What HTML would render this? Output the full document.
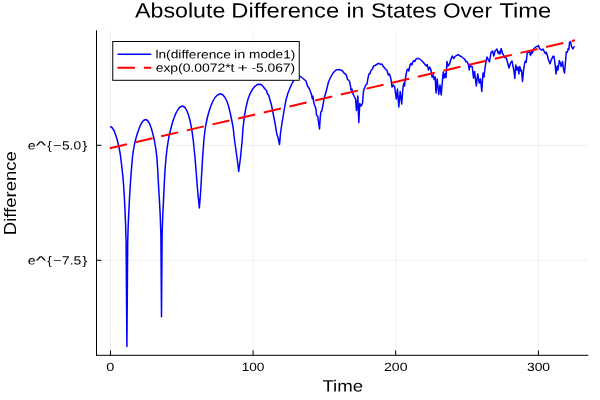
<!DOCTYPE html>
<html><head><meta charset="utf-8"><title>Absolute Difference in States Over Time</title>
<style>
html,body{margin:0;padding:0;background:#fff;}
svg{display:block;will-change:transform;opacity:0.999;}
text{font-family:"Liberation Sans",sans-serif;fill:#000;}
</style></head>
<body>
<svg width="600" height="400" viewBox="0 0 600 400">
<rect x="0" y="0" width="600" height="400" fill="#ffffff"/>
<!-- grid -->
<g stroke="#000" stroke-opacity="0.1" stroke-width="0.6" fill="none">
<line x1="110.5" y1="30.3" x2="110.5" y2="355.3"/>
<line x1="253.1" y1="30.3" x2="253.1" y2="355.3"/>
<line x1="395.7" y1="30.3" x2="395.7" y2="355.3"/>
<line x1="538.4" y1="30.3" x2="538.4" y2="355.3"/>
<line x1="96.5" y1="145.3" x2="588.3" y2="145.3"/>
<line x1="96.5" y1="260.3" x2="588.3" y2="260.3"/>
</g>
<!-- data -->
<polyline fill="none" stroke="#0000ff" stroke-width="1.5" stroke-linejoin="round" stroke-linecap="butt" points="110.2,126.5 112,127.5 114,130.5 115.5,134.5 117,139 118.2,144 119.5,150 120.4,155 121.6,165 122.7,175 123.6,185 124.4,198 125.0,210 125.6,225 126.1,242 126.9,346.6 127.7,242 128.2,225 128.9,210 129.5,198 130.3,185 131.0,175 131.8,165 132.7,155 133.5,150 134.5,144 136,138 137.5,133 139.5,127.5 141.5,123 143.5,120.5 145.5,119.5 147.5,120.5 149.5,123.5 151.5,129 153,134.5 154.5,141 156,150 156.8,157 157.6,168 158.5,185 159.4,200 160.2,215 160.9,235 161.5,316.7 162.1,235 162.8,215 163.4,203 164.2,185 165,170 166.1,157 167.2,147.5 168.7,138 170.5,130 172,124 174,118 176,113 178,109.5 180,107 182.5,106 185,107.5 187,111 188.5,115 190,120.5 191.2,126.5 192,131 193.2,140 195,157.5 196.4,175 197.8,192.5 199.35,207.9 200.6,192.5 201.6,175 202.6,157.5 203.9,140 205,130 206,124 207.5,117 209,111.5 211,105.5 213,101 215,97.5 217.5,95 220.5,93.8 223,95 225,97.5 227,101.5 228.5,106 230,112 231.5,119 232.5,124 233.2,128 234.5,140 237,157.5 238.7,171.5 240.5,157.5 242.2,140 243,128 244.5,115.5 246,107.3 248,99.3 250,93.8 252.5,89.3 255,86.2 257.5,84.6 259.5,84.2 261.5,84.8 263.5,87 265,89 266.5,90.5 267.5,94 268.8,95.5 270,100 271.2,104 272.3,109 274,118 275.5,126 277,135 278,137.5 279.5,144.5 280.5,133 282,123 283.5,114 284.5,108 286,100 288,93 290,88 292,83.5 293.5,80.8 296,77 298,75.7 299.7,76 303,78.5 306,81 307.5,86 309.5,89 311.5,94.5 312.3,98.7 312.9,96.2 313.6,101.5 314.5,105 316,109 316.5,115 317.8,116.5 318.5,122 319.5,129 320.2,118 320.8,112 321.8,111 323,105 324,99 326.5,90 328.5,82 330,78.5 333,73 336,70 339,69.5 342,70.5 344.5,73.5 346,74.3 347.5,79.3 349.5,81.2 350.5,86 351,90 352,89 352.5,93 354,96 355.5,99 356.5,110.5 357.8,96 358.8,122.5 359.8,103.5 361,106 362.5,103.5 363.5,91 365.5,85.5 367,84 368,78 369,74 370,73.5 371,70.5 372.5,69 373.5,66 375,65.5 377.5,64 379,63.2 380.5,64.5 382,64 383,66 385,68.5 387,70.5 388.3,75 389.5,74 391,79 392,87 393.3,85 394.7,87 396.3,99 397.5,89 398.8,107 400.2,91.5 401.7,104 403,87 404,83 404.5,86 405.3,79 406,75 407,70 408,69 408.8,71 410,65 411,63.5 411.8,65 413,61.5 414,60.5 414.8,61.5 416,59 417.5,58.5 419,58.5 421,60 423,62 425,64.5 426.2,66 427.2,64.5 428.5,70 429.7,67 430.8,69.5 432.2,77.3 433.2,75 434.2,79.5 435.2,77 436,93 437.2,79 438.7,94.5 440,85 441.2,95 442.5,80 443.2,72 444.1,78 445.2,73.5 446,77.5 447,61.5 448,66 449.5,64 451,59 452.2,56 453.5,58.5 455,56.5 456.5,55.5 458.3,54.7 460,56 461.5,56.5 463,58 464.5,59 466,61.5 467.2,62 468.5,65 469.2,70 470,65 471,66.5 472.2,66.5 473.5,78 474.6,71.5 476.3,86 477.7,74 479.3,83 480.5,79 481.8,91.5 483,73 484,77 485,68 486,62 487,57 488,59 489.5,62 491,52.5 492.5,51 493.8,56 495,51 496,50 497,49 498.2,53.5 499.2,51.5 500,54 501.2,48.5 502.5,53.5 503.5,55 504.8,57.5 506.3,58 507.4,62 509,68 510.5,63 512,61 513,66 514,71 514.8,78.5 515.8,65 517,70 518,67 518.8,74 519.8,66.5 520.8,71 521.5,70 522.5,81.5 523.5,71 524.5,64 525.3,61 526.2,62.3 527.4,51.5 528.5,52.5 529.5,51.5 530.5,55.5 531.7,51.5 532.4,53 533.6,49 535,47.5 536.5,46.5 537.5,46.5 538.5,45.5 539.5,48.7 541,49.5 542,50 543,49 544.3,51.7 545.5,53.7 546.3,52.2 547.5,56 548.5,60 550,63.8 551.5,59.3 553,56.3 554,56.3 555,63.5 556,74 557.2,66 558,70 559.3,60.5 560.5,63.5 561.2,66.5 562.5,61.5 563.5,69 564.5,73 565.5,62 566.3,52 567.3,52.3 568.2,48.5 568.9,49.5 569.5,42.5 570.5,41.5 571.5,46.3 572.9,49 574,46.7 574.5,47.1"/>
<line x1="109.8" y1="148.24" x2="574.9" y2="40.23" stroke="#ff0000" stroke-width="2.0" stroke-dasharray="17.5 8.85"/>
<!-- axes -->
<g stroke="#000" stroke-width="1" fill="none">
<line x1="96.5" y1="30.3" x2="96.5" y2="355.8"/>
<line x1="96" y1="355.3" x2="588.3" y2="355.3"/>
<line x1="110.5" y1="355.3" x2="110.5" y2="350.4"/>
<line x1="253.1" y1="355.3" x2="253.1" y2="350.4"/>
<line x1="395.7" y1="355.3" x2="395.7" y2="350.4"/>
<line x1="538.4" y1="355.3" x2="538.4" y2="350.4"/>
<line x1="96.5" y1="145.3" x2="101.4" y2="145.3"/>
<line x1="96.5" y1="260.3" x2="101.4" y2="260.3"/>
</g>
<text transform="translate(135.00,17.50) rotate(0.05)" font-size="20.6" textLength="90.30" lengthAdjust="spacingAndGlyphs">Absolute</text>
<text transform="translate(231.36,17.50) rotate(0.05)" font-size="20.6" textLength="107.81" lengthAdjust="spacingAndGlyphs">Difference</text>
<text transform="translate(346.46,17.50) rotate(0.05)" font-size="20.6" textLength="17.94" lengthAdjust="spacingAndGlyphs">in</text>
<text transform="translate(371.04,17.50) rotate(0.05)" font-size="20.6" textLength="65.59" lengthAdjust="spacingAndGlyphs">States</text>
<text transform="translate(442.88,17.50) rotate(0.05)" font-size="20.6" textLength="49.16" lengthAdjust="spacingAndGlyphs">Over</text>
<text transform="translate(499.46,17.50) rotate(0.05)" font-size="20.6" textLength="51.82" lengthAdjust="spacingAndGlyphs">Time</text>
<text transform="translate(106.36,371.10) rotate(0.05)" font-size="11.9" textLength="8.05" lengthAdjust="spacingAndGlyphs">0</text>
<text transform="translate(241.65,371.10) rotate(0.05)" font-size="11.9" textLength="22.75" lengthAdjust="spacingAndGlyphs">100</text>
<text transform="translate(384.07,371.10) rotate(0.05)" font-size="11.9" textLength="23.42" lengthAdjust="spacingAndGlyphs">200</text>
<text transform="translate(526.94,371.10) rotate(0.05)" font-size="11.9" textLength="23.12" lengthAdjust="spacingAndGlyphs">300</text>
<text transform="translate(322.39,391.55) rotate(0.05)" font-size="16.2" textLength="40.71" lengthAdjust="spacingAndGlyphs">Time</text>
<text transform="translate(15.70,235.15) rotate(-90)" font-size="16.2" textLength="83.91" lengthAdjust="spacingAndGlyphs">Difference</text>
<text transform="translate(27.75,149.40) rotate(0.05)" font-size="11.9" textLength="7.88" lengthAdjust="spacingAndGlyphs">e</text>
<text transform="translate(35.66,149.40) rotate(0.05)" font-size="11.9" textLength="10.38" lengthAdjust="spacingAndGlyphs">^</text>
<text transform="translate(47.27,149.40) rotate(0.05)" font-size="11.9" textLength="4.55" lengthAdjust="spacingAndGlyphs">{</text>
<text transform="translate(53.01,149.40) rotate(0.05)" font-size="11.9" textLength="8.79" lengthAdjust="spacingAndGlyphs">−</text>
<text transform="translate(61.96,149.40) rotate(0.05)" font-size="11.9" textLength="19.11" lengthAdjust="spacingAndGlyphs">5.0</text>
<text transform="translate(82.32,149.40) rotate(0.05)" font-size="11.9" textLength="5.07" lengthAdjust="spacingAndGlyphs">}</text>
<text transform="translate(27.75,264.40) rotate(0.05)" font-size="11.9" textLength="7.88" lengthAdjust="spacingAndGlyphs">e</text>
<text transform="translate(35.66,264.40) rotate(0.05)" font-size="11.9" textLength="10.38" lengthAdjust="spacingAndGlyphs">^</text>
<text transform="translate(47.27,264.40) rotate(0.05)" font-size="11.9" textLength="4.55" lengthAdjust="spacingAndGlyphs">{</text>
<text transform="translate(53.01,264.40) rotate(0.05)" font-size="11.9" textLength="8.79" lengthAdjust="spacingAndGlyphs">−</text>
<text transform="translate(61.82,264.40) rotate(0.05)" font-size="11.9" textLength="19.52" lengthAdjust="spacingAndGlyphs">7.5</text>
<text transform="translate(82.32,264.40) rotate(0.05)" font-size="11.9" textLength="5.07" lengthAdjust="spacingAndGlyphs">}</text>
<!-- legend -->
<rect x="112.75" y="41.5" width="186.5" height="38.8" fill="#ffffff" stroke="#000" stroke-width="1"/>
<line x1="117.5" y1="54.3" x2="151.3" y2="54.3" stroke="#0000ff" stroke-width="1.5"/>
<line x1="117.5" y1="67.7" x2="151.3" y2="67.7" stroke="#ff0000" stroke-width="2.0" stroke-dasharray="17.5 8.85"/>
<text transform="translate(155.40,58.35) rotate(0.05)" font-size="11.9" textLength="75.50" lengthAdjust="spacingAndGlyphs">ln(difference</text>
<text transform="translate(233.96,58.35) rotate(0.05)" font-size="11.9" textLength="11.33" lengthAdjust="spacingAndGlyphs">in</text>
<text transform="translate(249.02,58.35) rotate(0.05)" font-size="11.9" textLength="46.28" lengthAdjust="spacingAndGlyphs">mode1)</text>
<text transform="translate(155.69,71.75) rotate(0.05)" font-size="11.9" textLength="78.79" lengthAdjust="spacingAndGlyphs">exp(0.0072*t</text>
<text transform="translate(237.59,71.75) rotate(0.05)" font-size="11.9" textLength="10.38" lengthAdjust="spacingAndGlyphs">+</text>
<text transform="translate(251.38,71.75) rotate(0.05)" font-size="11.9" textLength="43.77" lengthAdjust="spacingAndGlyphs">-5.067)</text>
</svg>
</body></html>
